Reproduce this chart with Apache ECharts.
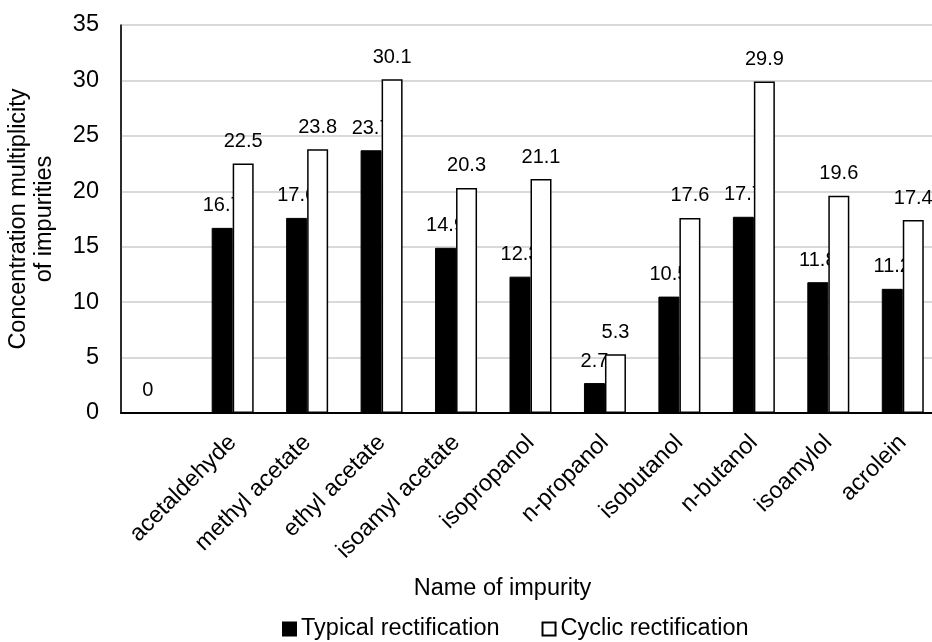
<!DOCTYPE html>
<html>
<head>
<meta charset="utf-8">
<title>Concentration multiplicity of impurities</title>
<script src="https://cdn.jsdelivr.net/npm/echarts@6/dist/echarts.min.js"></script>
<style>
  html, body { margin: 0; padding: 0; background: #fff; }
  #chart { width: 932px; height: 642px; }
</style>
</head>
<body>
<div id="chart"></div>
<script>
// categories (first one is blank in the original figure)
const categories = ['', 'acetaldehyde', 'methyl acetate', 'ethyl acetate', 'isoamyl acetate',
  'isopropanol', 'n-propanol', 'isobutanol', 'n-butanol', 'isoamylol', 'acrolein'];
const typicalValues = [0, 16.7, 17.6, 23.7, 14.9, 12.3, 2.7, 10.5, 17.7, 11.8, 11.2];
const cyclicValues = [null, 22.5, 23.8, 30.1, 20.3, 21.1, 5.3, 17.6, 29.9, 19.6, 17.4];
const yTicks = [0, 5, 10, 15, 20, 25, 30, 35];

const FONT = '"Liberation Sans", Arial, sans-serif';
const chart = echarts.init(document.getElementById('chart'));

const option = {
  backgroundColor: '#fff',
  animation: false,
  textStyle: { fontFamily: FONT, color: '#000' },
  grid: {
    left: 121,
    top: 25,
    right: -8, // the plot area runs past the picture's right edge
    bottom: 229,
    outerBoundsMode: 'none',
    show: true,
    borderColor: '#595959',
    borderWidth: 1
  },
  legend: {
    top: 612,
    left: 277,
    icon: 'rect',
    itemWidth: 13,
    itemHeight: 13,
    itemGap: 42,
    textStyle: { fontFamily: FONT, fontSize: 23.5, color: '#000' },
    data: ['Typical rectification', 'Cyclic rectification']
  },
  xAxis: {
    type: 'category',
    data: categories,
    name: 'Name of impurity',
    nameLocation: 'middle',
    nameGap: 164,
    nameTextStyle: { fontFamily: FONT, fontSize: 23.5, color: '#000', padding: [0, 56, 0, 0] },
    axisLine: { lineStyle: { color: '#000', width: 2 } },
    axisTick: { show: false },
    axisLabel: {
      interval: 0,
      rotate: 45,
      margin: 26,
      fontFamily: FONT,
      fontSize: 23.5,
      color: '#000'
    }
  },
  yAxis: {
    type: 'value',
    min: yTicks[0],
    max: yTicks[yTicks.length - 1],
    interval: 5,
    name: 'Concentration multiplicity\nof impurities',
    nameLocation: 'middle',
    nameGap: 63,
    nameRotate: 90,
    nameTextStyle: { fontFamily: FONT, fontSize: 23.5, color: '#000', lineHeight: 26 },
    axisLine: { show: true, lineStyle: { color: '#000', width: 1.5 } },
    axisTick: { show: false },
    axisLabel: { margin: 22, fontFamily: FONT, fontSize: 23.5, color: '#000' },
    splitLine: { lineStyle: { color: '#d9d9d9', width: 2 } }
  },
  series: [
    {
      name: 'Typical rectification',
      type: 'bar',
      z: 2,
      data: typicalValues,
      barWidth: 21,
      barGap: '0%',
      itemStyle: { color: '#000', borderColor: '#000', borderWidth: 1 },
      label: {
        show: true,
        position: 'top',
        distance: 12,
        fontFamily: FONT,
        fontSize: 20,
        color: '#000'
      }
    },
    {
      name: 'Cyclic rectification',
      type: 'bar',
      z: 3,
      data: cyclicValues,
      barWidth: 21,
      barGap: '0%',
      itemStyle: { color: '#fff', borderColor: '#000', borderWidth: 1.5 },
      label: {
        show: true,
        position: 'top',
        distance: 12,
        fontFamily: FONT,
        fontSize: 20,
        color: '#000'
      }
    }
  ]
};

chart.setOption(option);
</script>
</body>
</html>
